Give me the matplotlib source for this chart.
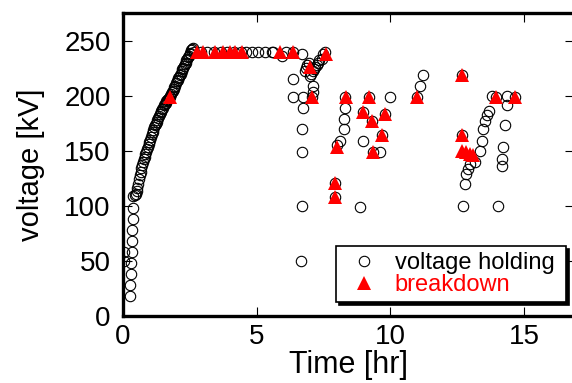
import matplotlib
matplotlib.use("Agg")
import matplotlib.pyplot as plt

plt.rcParams['font.family'] = ['Liberation Sans', 'DejaVu Sans']

# voltage holding points: initial step-up, ramp, flat top, then the conditioning scatter
hold_t = [0.04, 0.04, 0.26, 0.26, 0.29, 0.29, 0.32, 0.32, 0.34, 0.36, 0.38, 0.38,
          0.45, 0.48, 0.51, 0.54, 0.57, 0.60, 0.63, 0.66, 0.69, 0.72, 0.75, 0.78,
          0.81, 0.84, 0.87, 0.90, 0.93, 0.96, 0.99, 1.02, 1.05, 1.08, 1.11, 1.14,
          1.17, 1.20, 1.23, 1.26, 1.29, 1.32, 1.35, 1.38, 1.41, 1.44, 1.47, 1.50,
          1.53, 1.56, 1.59, 1.62, 1.65, 1.68, 1.71, 1.74, 1.77, 1.80, 1.83, 1.86,
          1.89, 1.92, 1.95, 1.98, 2.01, 2.04, 2.07, 2.10, 2.13, 2.16, 2.19, 2.22,
          2.25, 2.28, 2.31, 2.34, 2.37, 2.40, 2.43, 2.46, 2.49, 2.52, 2.55, 2.58,
          2.61,
          2.65, 2.90, 3.15, 3.40, 3.65, 3.90, 4.15, 4.40, 4.60, 4.81, 5.06, 5.31,
          5.56, 5.62, 5.93, 6.10, 6.35, 6.68,
          6.37, 6.37, 6.75, 6.72, 6.68, 6.68, 6.68, 6.66,
          6.80, 6.85, 6.90, 6.95, 7.00, 7.05, 7.10, 7.15, 7.20, 7.25, 7.30, 7.35,
          7.12, 7.10, 7.43, 7.49, 7.55, 7.06,
          8.30, 8.30, 8.27, 8.27, 8.12, 7.99, 7.93, 7.93, 8.87,
          9.22, 9.99, 8.97, 9.61, 8.99, 9.30, 9.80, 9.68, 9.37,
          10.98, 11.11, 11.24,
          12.67, 12.67, 12.73, 12.80, 12.83, 12.92, 12.98, 13.17, 13.36, 13.42,
          13.48, 13.54, 13.63, 13.70, 13.79, 13.97,
          14.04, 14.35, 14.35, 14.29, 14.20, 14.16, 14.16, 14.67]
hold_v = [58, 50, 18, 28, 38, 48, 58, 68, 78, 88, 98, 109,
          110, 111, 113, 116, 120, 124, 128, 131, 134, 137, 140, 142,
          144, 147, 149, 151, 153, 156, 158, 160, 162, 165, 167, 169,
          171, 173, 174, 176, 178, 180, 181, 183, 185, 186, 188, 189,
          191, 192, 193, 195, 196, 197, 198, 199, 200, 201, 203, 204,
          206, 208, 209, 211, 213, 214, 216, 217, 219, 220, 222, 224,
          225, 227, 229, 230, 232, 233, 235, 236, 238, 239, 241, 242,
          243,
          240, 240, 240, 240, 240, 240, 240, 240, 240, 240, 240, 240,
          240, 240, 236, 240, 240, 238,
          215, 199, 199, 189, 170, 149, 100, 50,
          222, 225, 228, 230, 218, 220, 222, 224, 226, 228, 230, 232,
          209, 203, 233, 238, 240, 199,
          199, 189, 179, 170, 159, 155, 121, 108, 99,
          199, 199, 159, 149, 185, 177, 183, 164, 149,
          199, 209, 219,
          219, 164, 100, 120, 129, 133, 138, 140, 150, 159,
          170, 177, 182, 186, 200, 199,
          100, 200, 191, 173, 153, 142, 136, 199]

# breakdown events
bd_t = [1.76, 2.75, 3.00, 3.44, 3.75, 4.00, 4.19, 4.44, 5.87, 6.37,
        7.00, 7.06, 7.60, 7.99, 7.93, 7.93, 8.34, 9.20, 8.99, 9.30, 9.80,
        9.68, 9.37, 10.98, 12.67, 12.67, 12.67, 12.83, 12.98, 13.10,
        13.97, 14.67]
bd_v = [199, 240, 240, 240, 240, 240, 240, 240, 240, 240,
        226, 199, 238, 153, 121, 108, 199, 199, 185, 177, 183,
        164, 149, 199, 219, 164, 150, 149, 147, 146,
        199, 199]

fig = plt.figure(figsize=(5.72, 3.83), dpi=100)
ax = fig.add_axes([123 / 572, 67.3 / 383, 451 / 572, 302.7 / 383])

ax.plot(hold_t, hold_v, linestyle='none', marker='o', markersize=7.5,
        markerfacecolor='none', markeredgecolor='black', markeredgewidth=0.8,
        label='voltage holding', zorder=3)
ax.plot(bd_t, bd_v, linestyle='none', marker='^', markersize=9.5,
        color='red', markeredgewidth=0, label='breakdown', zorder=4)

ax.set_xlim(0, 16.87)
ax.set_ylim(0, 275)
ax.set_xticks([0, 5, 10, 15])
ax.set_yticks([0, 50, 100, 150, 200, 250])

for side in ax.spines.values():
    side.set_linewidth(2.4)
ax.tick_params(direction='in', top=True, right=True, length=6.5, width=0.8,
               labelsize=20, pad=6)
ax.tick_params(axis='y', pad=9)

ax.set_xlabel('Time [hr]', fontsize=22, labelpad=0)
ax.set_ylabel('voltage [kV]', fontsize=21, labelpad=14)

leg = ax.legend(loc='lower left', bbox_to_anchor=(0.472, 0.045, 0.51, 0.198),
                mode='expand', borderaxespad=0, fontsize=17, frameon=True,
                fancybox=False, edgecolor='black', borderpad=0.25,
                labelspacing=0.0, handletextpad=0.35, handlelength=1.9,
                shadow={'color': 'black', 'alpha': 1, 'ox': 2, 'oy': -2})
leg.get_frame().set_linewidth(1.2)
leg.get_texts()[1].set_color('red')

fig.savefig('out.png', dpi=100)
